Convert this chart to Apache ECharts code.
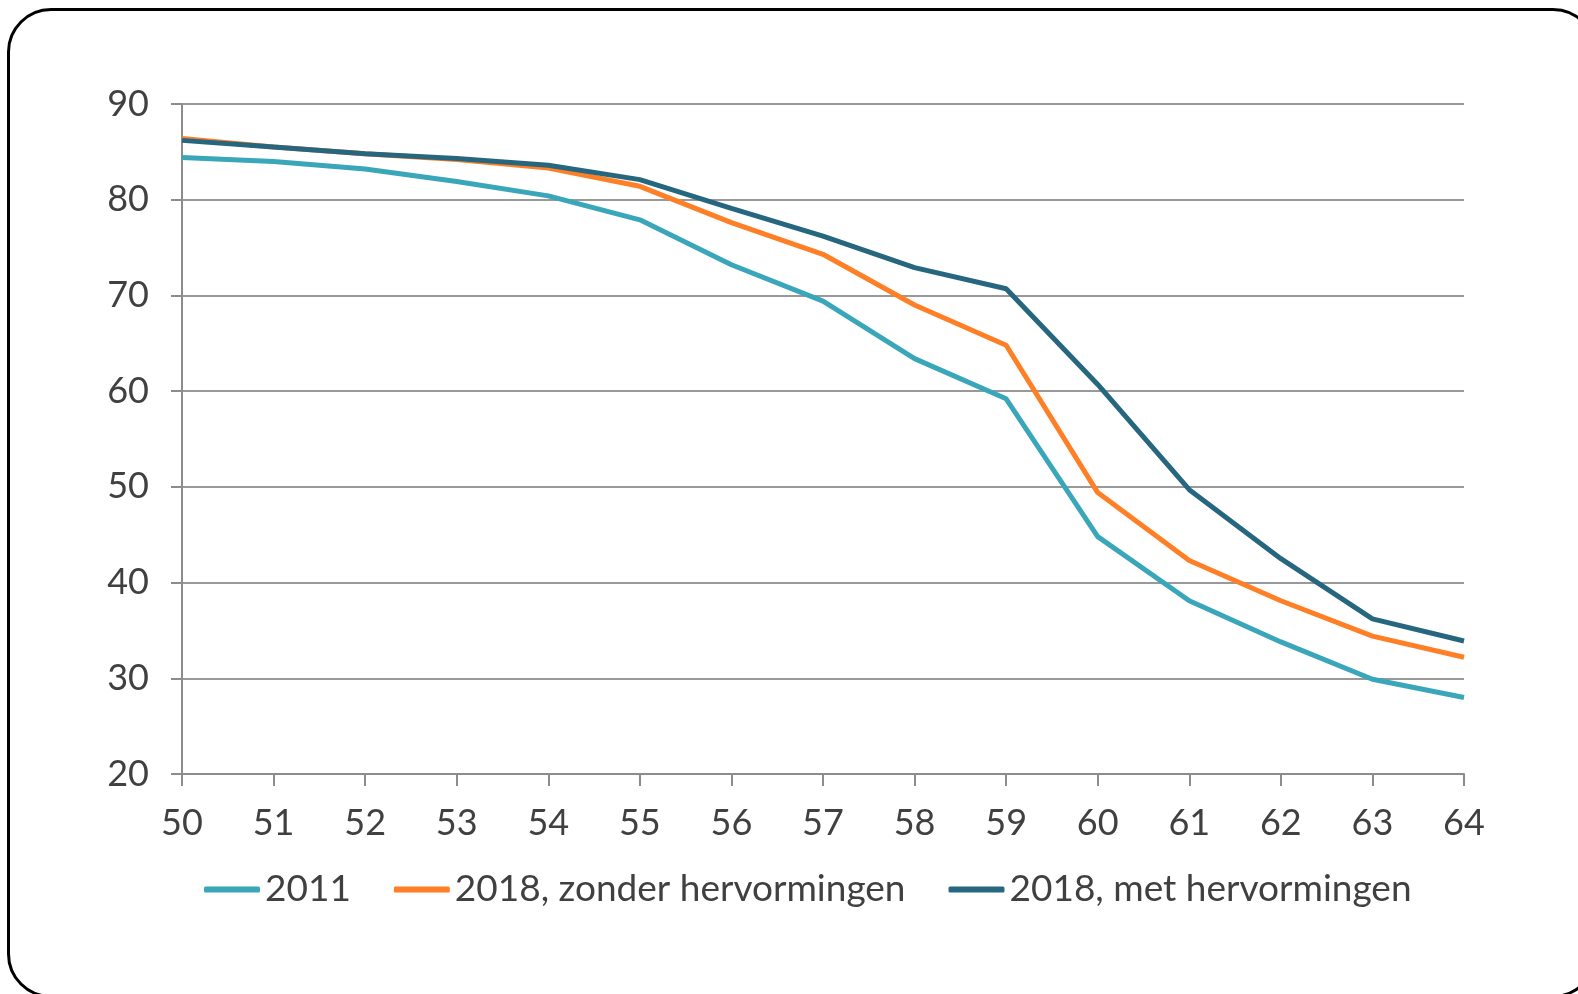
<!DOCTYPE html>
<html>
<head>
<meta charset="utf-8">
<script src="https://cdn.jsdelivr.net/npm/echarts@6/dist/echarts.min.js"></script>
<style>
  html, body { margin: 0; padding: 0; width: 1578px; height: 994px; overflow: hidden; background: #fff; }
  .frame {
    position: absolute; left: 7px; top: 8px; width: 1590px; height: 990px;
    border: 3px solid #000; border-radius: 44px; box-sizing: border-box;
  }
  #chart { position: absolute; left: 0; top: 0; width: 1578px; height: 994px; }
</style>
</head>
<body>
<div class="frame"></div>
<div id="chart"></div>
<script>
// leeftijd
const ages = ['50', '51', '52', '53', '54', '55', '56', '57', '58', '59', '60', '61', '62', '63', '64']

const y2011 = [84.4, 84.0, 83.2, 81.9, 80.4, 77.9, 73.2, 69.4, 63.4, 59.2, 44.8, 38.1, 33.8, 29.9, 28.0]
const y2018zonder = [86.4, 85.5, 84.8, 84.2, 83.3, 81.4, 77.6, 74.3, 69.0, 64.8, 49.4, 42.3, 38.1, 34.4, 32.2]
const y2018met = [86.2, 85.5, 84.8, 84.3, 83.6, 82.1, 79.1, 76.2, 72.9, 70.7, 60.7, 49.7, 42.5, 36.2, 33.9]

const seriesNames = ['2011', '2018, zonder hervormingen', '2018, met hervormingen']
const colors = ['#3aa6b9', '#ff7f27', '#26677f']

const font = 'Lato'
const textColor = '#404040'
const axisGray = '#8c8c8c'

let chart = echarts.init(document.getElementById('chart'))

function line(name, data, color) {
  return {
    name: name,
    type: 'line',
    data: data,
    symbol: 'none',
    lineStyle: { width: 5, color: color },
    itemStyle: { color: color },
    emphasis: { disabled: true },
  }
}

let option = {
  animation: false,
  textStyle: { fontFamily: font },
  grid: {
    left: 182,
    right: 114,
    top: 104,
    bottom: 220,
  },
  legend: {
    left: 199,
    top: 866,
    icon: 'roundRect',
    itemWidth: 56,
    itemHeight: 6,
    itemGap: 43,
    textStyle: { fontSize: 37, color: textColor, fontFamily: font },
    data: seriesNames,
  },
  xAxis: {
    type: 'category',
    data: ages,
    boundaryGap: false,
    axisLine: { lineStyle: { color: axisGray, width: 2 } },
    axisTick: { show: true, length: 12, lineStyle: { color: axisGray, width: 2 } },
    axisLabel: { fontSize: 36, color: textColor, margin: 31, fontFamily: font },
    splitLine: { show: false },
  },
  yAxis: {
    type: 'value',
    min: 20,
    max: 90,
    interval: 10,
    axisLine: { show: true, lineStyle: { color: axisGray, width: 2 } },
    axisTick: { show: true, length: 11, lineStyle: { color: axisGray, width: 2 } },
    axisLabel: { fontSize: 36, color: textColor, margin: 33, fontFamily: font },
    splitLine: { lineStyle: { color: '#999', width: 2 } },
  },
  series: [
    line(seriesNames[0], y2011, colors[0]),
    line(seriesNames[1], y2018zonder, colors[1]),
    line(seriesNames[2], y2018met, colors[2]),
  ],
}

chart.setOption(option)
</script>
</body>
</html>
